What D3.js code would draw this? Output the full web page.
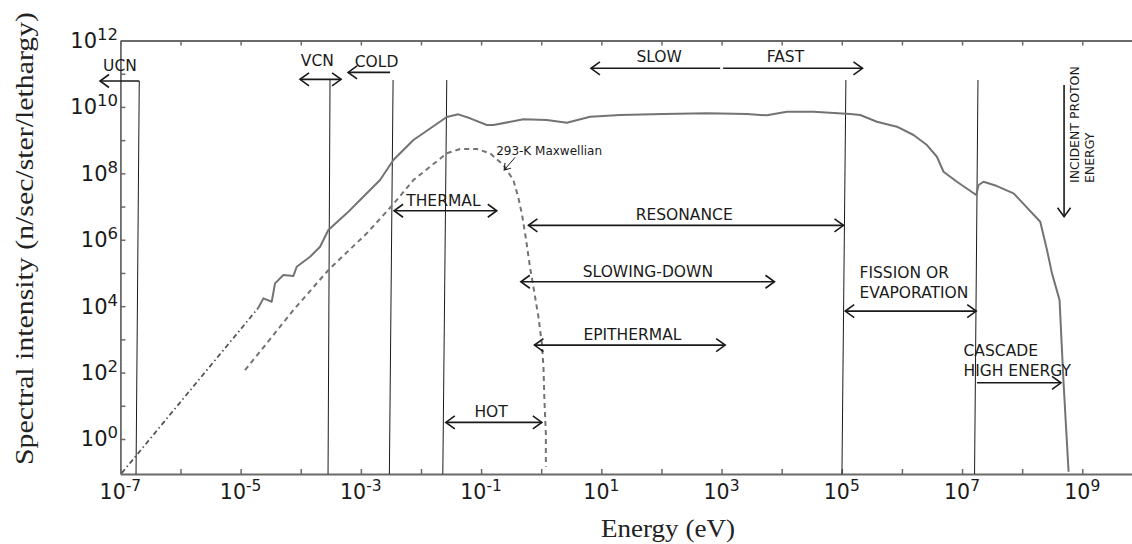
<!DOCTYPE html>
<html><head><meta charset="utf-8">
<script src="https://cdn.jsdelivr.net/npm/d3@7"></script>
<style>body{margin:0;background:#fff}svg{display:block}</style>
</head><body>
<svg id="chart" width="1132" height="544"></svg>
<script>
// ---------- data (log10 values) ----------
const xTickExps = [-7,-6,-5,-4,-3,-2,-1,0,1,2,3,4,5,6,7,8,9];
const xLabelExps = [-7,-5,-3,-1,1,3,5,7,9];
const yTickExps = [0,1,2,3,4,5,6,7,8,9,10,11];
const yLabelExps = [0,2,4,6,8,10,12];

// dash-dot extrapolation of spectrum at very low energy
const extrapLogE = [-6.978, -4.71];
const extrapLogI = [-1.027, 3.94];

// measured spectrum (solid)
const spectrumLogE = [-4.71,-4.622,-4.483,-4.428,-4.289,-4.123,-4.067,-3.845,-3.679,-3.541,-3.235,-3.013,-2.681,-2.459,-2.126,-1.571,-1.378,-1.183,-0.905,-0.795,-0.296,0.093,0.426,0.814,1.313,2.033,2.755,3.421,3.754,4.087,4.529,5.140,5.306,5.584,5.917,6.193,6.416,6.582,6.692,6.915,7.236,7.275,7.358,7.581,7.857,8.301,8.413,8.496,8.622,8.689,8.772];
const spectrumLogI = [3.94,4.235,4.133,4.687,4.937,4.907,5.187,5.488,5.789,6.292,6.795,7.196,7.798,8.401,9.003,9.696,9.777,9.657,9.455,9.455,9.627,9.605,9.524,9.705,9.756,9.786,9.807,9.786,9.747,9.855,9.855,9.786,9.756,9.554,9.404,9.154,8.852,8.5,8.048,7.747,7.346,7.648,7.747,7.617,7.398,6.542,5.690,4.988,4.184,1.675,-0.988];

// 293-K Maxwellian (dashed)
const maxwellLogE = [-4.927,-4.566,-4.123,-3.541,-2.902,-2.473,-2.126,-1.849,-1.571,-1.349,-1.071,-0.850,-0.629,-0.463,-0.379,-0.318,-0.251,-0.188,-0.130,-0.047,0.010,0.037,0.053,0.077,0.077];
const maxwellLogI = [2.075,2.880,3.883,5.087,6.193,7.045,7.798,8.199,8.602,8.732,8.732,8.602,8.25,7.798,7.256,6.744,5.991,5.187,4.584,3.681,2.88,2.175,1.172,0.169,-0.837];

// region boundary lines
const boundaryTopLogE = [-6.686,-3.513,-2.464,-1.571,5.068,7.265];
const boundaryBotLogE = [-6.740,-3.546,-2.526,-1.637,5.002,7.208];
const boundaryTopLogI = [10.78,10.83,10.81,10.81,10.81,10.81];

// region arrows: start, end (log E), level (log I), double-headed?
const arrowStartLogE = [-6.686,-4.012,-2.514,2.977,3.027,-2.448,-0.213,-0.339,-0.113,-1.587,5.057,7.248];
const arrowEndLogE   = [-7.339,-3.329,-3.213,0.827,5.344,-0.739,5.028,3.880,3.060,0.010,7.236,8.646];
const arrowLogI      = [10.78,10.83,11.04,11.163,11.163,6.873,6.434,4.735,2.828,0.5,3.852,1.693];
const arrowDouble    = [false,true,false,false,false,true,true,true,true,true,true,false];

// region labels
const labelText = ["UCN","VCN","COLD","SLOW","FAST","THERMAL","RESONANCE","SLOWING-DOWN","EPITHERMAL","HOT","FISSION OR","EVAPORATION","CASCADE","HIGH ENERGY"];
const labelLogE = [-7.007,-3.724,-2.739,1.962,4.063,-1.627,2.378,1.774,1.517,-0.834,5.294,5.294,7.025,7.025];
const labelLogI = [11.09,11.232,11.21,11.343,11.343,7.015,6.593,4.886,2.979,0.669,4.837,4.235,2.497,1.895];
const labelAnchor = ["middle","middle","middle","middle","middle","middle","middle","middle","middle","middle","start","start","start","start"];

// incident proton energy arrow
const protonLogE = 8.697, protonLogI = [10.66, 6.693];
const protonText = ["INCIDENT PROTON","ENERGY"];
const protonTextLogE = [8.95, 9.2], protonTextLogI = 7.708;

// Maxwellian label + pointer
const maxLabel = "293-K Maxwellian";
const maxLabelLogE = -0.75, maxLabelLogI = 8.551;
const maxPointerLogE = [-0.434,-0.617], maxPointerLogI = [8.482,8.099];

// ---------- drawing ----------
const P = v => Math.pow(10, v);
const svg = d3.select("#chart");
const x = d3.scaleLog().domain([1e-7, 1e10]).range([120.4, 1142.4]);
const y = d3.scaleLog().domain([P(-1.054), 1e12]).range([474, 40.5]);
const frameCol = "#6a6a6a", inkCol = "#1a1a1a", curveCol = "#737373";
const sans = "'DejaVu Sans', Verdana, sans-serif";

const defs = svg.append("defs");
defs.append("marker").attr("id","chev").attr("viewBox","-12 -8 14 16")
  .attr("refX",0).attr("refY",0).attr("markerWidth",14).attr("markerHeight",16)
  .attr("markerUnits","userSpaceOnUse").attr("orient","auto-start-reverse")
  .append("path").attr("d","M-9,-6.5 L0,0 L-9,6.5").attr("fill","none")
  .attr("stroke",inkCol).attr("stroke-width",1.6);
defs.append("marker").attr("id","chevS").attr("viewBox","-8 -6 10 12")
  .attr("refX",0).attr("refY",0).attr("markerWidth",10).attr("markerHeight",12)
  .attr("markerUnits","userSpaceOnUse").attr("orient","auto")
  .append("path").attr("d","M-6,-4 L0,0 L-6,4").attr("fill","none")
  .attr("stroke",inkCol).attr("stroke-width",1);

// axes (inward ticks)
function styleAxis(g){
  g.select(".domain").attr("stroke",frameCol).attr("stroke-width",1.8);
  g.selectAll(".tick line").attr("stroke",frameCol).attr("stroke-width",1.5);
}
svg.append("g").attr("transform","translate(0,474)")
  .call(d3.axisBottom(x).tickValues(xTickExps.map(P)).tickSizeInner(-5).tickSizeOuter(0).tickFormat(""))
  .call(styleAxis);
svg.append("g").attr("transform","translate(0,40.5)")
  .call(d3.axisTop(x).tickValues(xTickExps.map(P)).tickSizeInner(-5).tickSizeOuter(0).tickFormat(""))
  .call(styleAxis);
svg.append("g").attr("transform","translate(120.4,0)")
  .call(d3.axisLeft(y).tickValues(yTickExps.map(P)).tickSizeInner(-5).tickSizeOuter(0).tickFormat(""))
  .call(styleAxis);

// tick labels
const xl = svg.append("g").attr("font-family",sans).attr("fill",inkCol);
xLabelExps.forEach(e=>{
  const t = xl.append("text").attr("x",x(P(e))).attr("y",498.5).attr("text-anchor","middle").attr("font-size",20.5);
  t.append("tspan").text("10");
  t.append("tspan").attr("font-size",15.5).attr("dy",-8).text(String(e));
});
yLabelExps.forEach(e=>{
  const t = xl.append("text").attr("x",118).attr("y",y(P(e))+7.5).attr("text-anchor","end").attr("font-size",21);
  t.append("tspan").text("10");
  t.append("tspan").attr("font-size",16.5).attr("dy",-8).text(String(e));
});

// axis titles
svg.append("text").attr("transform","translate(33,238.5) rotate(-90)")
  .attr("text-anchor","middle").attr("font-family","'Liberation Serif', 'DejaVu Serif', serif")
  .attr("font-size",26).attr("fill","#222").attr("textLength",453).attr("lengthAdjust","spacingAndGlyphs")
  .text("Spectral intensity (n/sec/ster/lethargy)");
svg.append("text").attr("x",668).attr("y",537)
  .attr("text-anchor","middle").attr("font-family","'Liberation Serif', 'DejaVu Serif', serif")
  .attr("font-size",26).attr("fill","#222").attr("textLength",134).attr("lengthAdjust","spacingAndGlyphs")
  .text("Energy (eV)");

// boundary lines
const bl = svg.append("g").attr("stroke",inkCol).attr("stroke-width",1);
boundaryTopLogE.forEach((e,i)=>{
  bl.append("line").attr("x1",x(P(e))).attr("y1",y(P(boundaryTopLogI[i])))
    .attr("x2",x(P(boundaryBotLogE[i]))).attr("y2",y.range()[0]);
});

// curves
const line = d3.line().x(d=>x(P(d[0]))).y(d=>y(P(d[1])));
svg.append("path").attr("d",line(d3.zip(extrapLogE,extrapLogI)))
  .attr("fill","none").attr("stroke","#555").attr("stroke-width",1.8).attr("stroke-dasharray","5,3,1.5,3");
svg.append("path").attr("d",line(d3.zip(spectrumLogE,spectrumLogI)))
  .attr("fill","none").attr("stroke",curveCol).attr("stroke-width",2).attr("stroke-linejoin","round");
svg.append("path").attr("d",line(d3.zip(maxwellLogE,maxwellLogI)))
  .attr("fill","none").attr("stroke",curveCol).attr("stroke-width",2).attr("stroke-dasharray","5,4");

// arrows
const ag = svg.append("g").attr("stroke",inkCol).attr("stroke-width",1.6).attr("fill","none");
arrowStartLogE.forEach((e,i)=>{
  const ln = ag.append("line").attr("x1",x(P(e))).attr("y1",y(P(arrowLogI[i])))
    .attr("x2",x(P(arrowEndLogE[i]))).attr("y2",y(P(arrowLogI[i])))
    .attr("marker-end","url(#chev)");
  if(arrowDouble[i]) ln.attr("marker-start","url(#chev)");
});
ag.append("line").attr("x1",x(P(protonLogE))).attr("y1",y(P(protonLogI[0])))
  .attr("x2",x(P(protonLogE))).attr("y2",y(P(protonLogI[1]))).attr("marker-end","url(#chev)");

// labels
const lg = svg.append("g").attr("font-family",sans).attr("font-size",15.5).attr("fill",inkCol);
labelText.forEach((t,i)=>{
  lg.append("text").attr("x",x(P(labelLogE[i]))).attr("y",y(P(labelLogI[i])))
    .attr("text-anchor",labelAnchor[i]).text(t);
});
protonText.forEach((t,i)=>{
  lg.append("text").attr("transform",`translate(${x(P(protonTextLogE[i]))},${y(P(protonTextLogI))}) rotate(-90)`)
    .attr("font-size",12.5).text(t);
});
lg.append("text").attr("x",x(P(maxLabelLogE))).attr("y",y(P(maxLabelLogI))).attr("font-size",12).text(maxLabel);
svg.append("line").attr("x1",x(P(maxPointerLogE[0]))).attr("y1",y(P(maxPointerLogI[0])))
  .attr("x2",x(P(maxPointerLogE[1]))).attr("y2",y(P(maxPointerLogI[1])))
  .attr("stroke",inkCol).attr("stroke-width",1).attr("marker-end","url(#chevS)");
</script>
</body></html>
